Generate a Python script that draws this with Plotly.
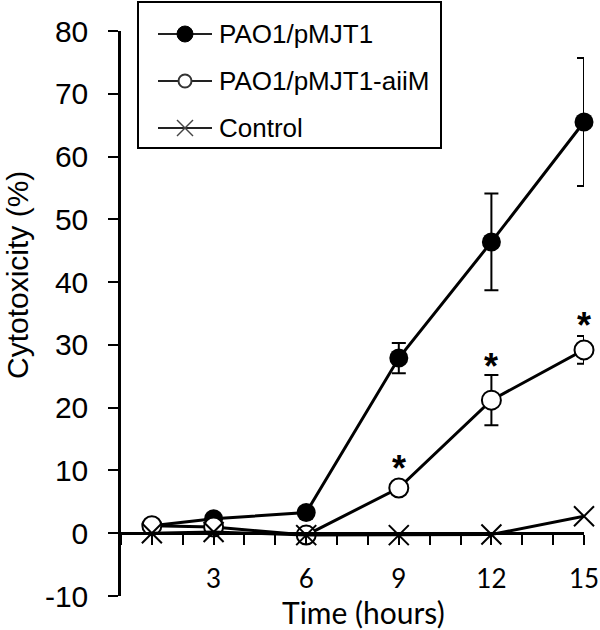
import plotly.graph_objects as go

# ---- data ----
hours = [1, 3, 6, 9, 12, 15]
pmjt1 = [1.2, 2.3, 3.3, 27.9, 46.4, 65.5]
pmjt1_err = [0.3, 0.3, 0.5, 2.4, 7.7, 10.2]
aiim = [1.2, 1.0, -0.3, 7.2, 21.2, 29.2]
aiim_err = [0.3, 0.3, 0.3, 0.8, 4.0, 2.2]
control = [0.0, 0.2, -0.3, -0.3, -0.2, 2.7]
series_names = ["PAO1/pMJT1", "PAO1/pMJT1-aiiM", "Control"]
star_x = [9, 12, 15]
star_y = [11.6, 27.9, 34.4]
x_tickvals = [3, 6, 9, 12, 15]
x_ticktext = ["3", "6", "9", "12", "15"]
y_tickvals = [-10, 0, 10, 20, 30, 40, 50, 60, 70, 80]
y_ticktext = ["-10", "0", "10", "20", "30", "40", "50", "60", "70", "80"]

W, H = 600, 630
L, R, T, B = 121, 16, 31, 34
PW, PH = W - L - R, H - T - B


def px(x):
    return (x - L) / PW


def py(y):
    return (H - B - y) / PH


ARIAL = "Liberation Sans, Arial, sans-serif"
XFONT = "Lato, Open Sans, sans-serif"

fig = go.Figure()

fig.add_trace(go.Scatter(
    x=hours, y=pmjt1, mode="lines+markers", name=series_names[0],
    line=dict(color="black", width=3),
    marker=dict(symbol="circle", size=19, color="black"),
    error_y=dict(type="data", array=pmjt1_err, visible=True,
                 color="black", thickness=2, width=7),
    cliponaxis=False, showlegend=False))

fig.add_trace(go.Scatter(
    x=hours, y=aiim, mode="lines+markers", name=series_names[1],
    line=dict(color="black", width=3),
    marker=dict(symbol="circle", size=19, color="white",
                line=dict(color="black", width=2)),
    error_y=dict(type="data", array=aiim_err, visible=True,
                 color="black", thickness=2, width=7),
    cliponaxis=False, showlegend=False))

fig.add_trace(go.Scatter(
    x=hours, y=control, mode="lines+markers", name=series_names[2],
    line=dict(color="black", width=3),
    marker=dict(symbol="x-thin-open", size=20, color="black",
                line=dict(color="black", width=2)),
    cliponaxis=False, showlegend=False))

# significance asterisks
for sx, sy in zip(star_x, star_y):
    fig.add_annotation(x=sx, y=sy, xref="x", yref="y", text="<b>*</b>",
                       showarrow=False, yshift=-8,
                       font=dict(family=ARIAL, size=36, color="black"))

# ---- manual legend ----
shapes = [dict(type="rect", xref="paper", yref="paper",
               x0=px(138), x1=px(441), y0=py(148), y1=py(2),
               line=dict(color="black", width=2), fillcolor="white", layer="above")]
leg_y = [34, 81, 128]
for i, (name, ly) in enumerate(zip(series_names, leg_y)):
    shapes.append(dict(type="line", xref="paper", yref="paper",
                       x0=px(158), x1=px(212), y0=py(ly), y1=py(ly),
                       line=dict(color="#222222", width=2), layer="above"))
    if i == 0:
        shapes.append(dict(type="circle", xref="paper", yref="paper",
                           xsizemode="pixel", ysizemode="pixel",
                           xanchor=px(185), yanchor=py(ly),
                           x0=-8, x1=8, y0=-8, y1=8,
                           fillcolor="black", line=dict(color="black", width=1),
                           layer="above"))
    elif i == 1:
        shapes.append(dict(type="circle", xref="paper", yref="paper",
                           xsizemode="pixel", ysizemode="pixel",
                           xanchor=px(185), yanchor=py(ly),
                           x0=-6.5, x1=6.5, y0=-6.5, y1=6.5,
                           fillcolor="white", line=dict(color="#333333", width=2),
                           layer="above"))
    else:
        for d in (1, -1):
            shapes.append(dict(type="line", xref="paper", yref="paper",
                               xsizemode="pixel", ysizemode="pixel",
                               xanchor=px(185), yanchor=py(ly),
                               x0=-8, x1=8, y0=-8 * d, y1=8 * d,
                               line=dict(color="#444444", width=1.5),
                               layer="above"))
    fig.add_annotation(x=px(217), y=py(ly), xref="paper", yref="paper",
                       text=name, showarrow=False, xanchor="left", yanchor="middle",
                       font=dict(family=ARIAL, size=26, color="black"))

# axis titles
fig.add_annotation(x=px(363), y=py(612), xref="paper", yref="paper",
                   text="Time (hours)", showarrow=False,
                   xanchor="center", yanchor="middle",
                   font=dict(family=XFONT, size=30, color="black"))
fig.add_annotation(x=px(17), y=py(275), xref="paper", yref="paper",
                   text="Cytotoxicity (%)", showarrow=False, textangle=-90,
                   xanchor="center", yanchor="middle",
                   font=dict(family=ARIAL, size=30, color="black"))

fig.update_layout(
    width=W, height=H,
    margin=dict(l=L, r=R, t=T, b=B, autoexpand=False),
    plot_bgcolor="white", paper_bgcolor="white",
    shapes=shapes,
    showlegend=False,
    xaxis=dict(range=[0, 15], anchor="free", position=10 / 90,
               showline=True, linecolor="black", linewidth=2.5,
               showgrid=False, zeroline=False,
               tickmode="array", tickvals=x_tickvals, ticktext=x_ticktext,
               ticks="outside", ticklen=10, tickwidth=2, tickcolor="black",
               minor=dict(dtick=1, tick0=0, ticks="outside", ticklen=10,
                          tickwidth=2, tickcolor="black", showgrid=False),
               ticklabelstandoff=12,
               tickfont=dict(family=XFONT, size=26, color="black")),
    yaxis=dict(range=[-10, 80], showline=True, linecolor="black", linewidth=2.5,
               showgrid=False, zeroline=False,
               tickmode="array", tickvals=y_tickvals, ticktext=y_ticktext,
               ticks="outside", ticklen=10, tickwidth=2, tickcolor="black",
               ticklabelstandoff=14,
               tickfont=dict(family=ARIAL, size=30, color="black")),
)

fig.write_html(
    "out.html",
    config={"displayModeBar": False},
    post_script="document.body.style.margin='0px';document.body.style.padding='0px';",
)
